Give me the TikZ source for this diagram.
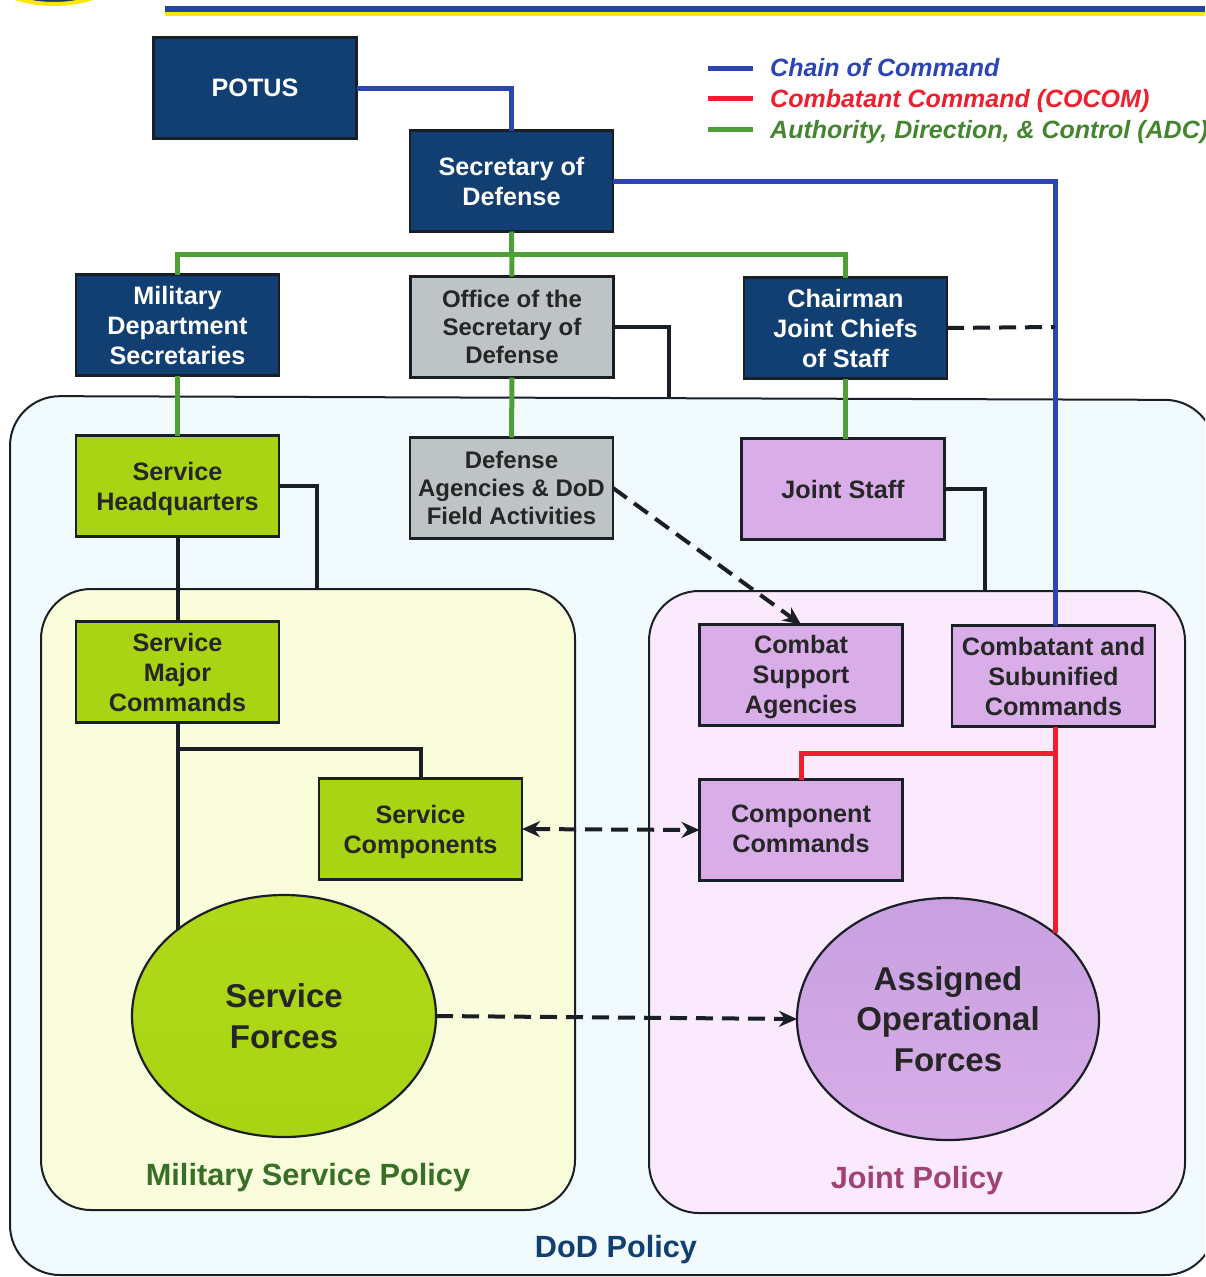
\documentclass[tikz,border=0pt]{standalone}
\usepackage{fontspec}
\setmainfont{Liberation Sans}
\usetikzlibrary{shapes.geometric,arrows.meta}
\definecolor{navy}{HTML}{123F72}
\definecolor{lime}{HTML}{A8D414}
\definecolor{limelt}{HTML}{B0D818}
\definecolor{orchid}{HTML}{D8ADE8}
\definecolor{orchidb}{HTML}{C8A0E0}
\definecolor{greybox}{HTML}{BEC3C5}
\definecolor{cmdblue}{HTML}{2B46B4}
\definecolor{adcgreen}{HTML}{509E38}
\definecolor{cocomred}{HTML}{F01E2E}
\definecolor{edge}{HTML}{1A1F26}
\definecolor{milfill}{HTML}{FAFDDC}
\definecolor{jointfill}{HTML}{FBEAFD}
\definecolor{dodfill}{HTML}{F1FBFE}
\newcommand{\lowered}[2]{\raisebox{-#1}[\height][\depth]{\begin{tabular}{@{}c@{}}#2\end{tabular}}}
\tikzset{
  x=1pt,y=-1pt,
  box/.style={rectangle,draw=edge,line width=2.2pt,minimum width=203pt,minimum height=101pt,inner sep=0pt,outer sep=0pt,align=center,font=\fontsize{25.2}{30}\selectfont\bfseries},
  navybox/.style={box,fill=navy,text=white},
  greenbox/.style={box,fill=lime,text=black!85},
  purplebox/.style={box,fill=orchid,text=black!85},
  greybx/.style={box,fill=greybox,text=black!85,font=\fontsize{24}{28}\selectfont\bfseries},
  region/.style={draw=edge,line width=2pt,rounded corners=50pt},
  blob/.style={ellipse,draw=edge,line width=2.2pt,inner sep=0pt,outer sep=0pt,align=center,font=\fontsize{33}{40.5}\selectfont\bfseries,text=black!85},
  cmdline/.style={draw=cmdblue,line width=5pt},
  adcline/.style={draw=adcgreen,line width=5pt},
  redline/.style={draw=cocomred,line width=5pt},
  blkline/.style={draw=edge,line width=4pt},
  dashline/.style={draw=edge,line width=4pt,dash pattern=on 17pt off 9pt},
  tipped/.style={-{Stealth[length=18pt,width=16pt]}},
  bothtip/.style={{Stealth[length=18pt,width=16pt]}-{Stealth[length=18pt,width=16pt]}},
  legend/.style={anchor=west,inner sep=0pt,font=\fontsize{25}{30}\selectfont\bfseries\itshape},
  caption/.style={inner sep=0pt,font=\fontsize{30.7}{36}\selectfont\bfseries},
}
\begin{document}
\begin{tikzpicture}
\useasboundingbox (0,0) rectangle (1205,1277);
\clip (0,0) rectangle (1205,1277);
\fill[white] (0,0) rectangle (1205,1277);
% logo fragment and header rule
\draw[draw=yellow!90!orange,line width=4pt,fill=navy] (54,-124) circle [radius=128pt];
\fill[cmdblue!70!navy] (165,6) rectangle (1205,11.5);
\fill[yellow!90!orange] (165,11.5) rectangle (1205,15.5);
% regions
\draw[region,fill=dodfill] (10,396) -- (1215,400) -- (1215,1275) -- (10,1275) -- cycle;
\draw[region,fill=milfill] (41,589) rectangle (575,1210);
\draw[region,fill=jointfill] (649,591) rectangle (1185,1213);
% nodes
\node[navybox] (potus) at (255,88) {POTUS};
\node[navybox] (secdef) at (511.5,181) {Secretary of\\Defense};
\node[navybox] (milsec) at (177.5,325) {Military\\Department\\Secretaries};
\node[greybx] (osd) at (512,327) {Office of the\\Secretary of\\Defense};
\node[navybox] (cjcs) at (845.5,328) {Chairman\\Joint Chiefs\\of Staff};
\node[greenbox] (hq) at (177.5,486) {\lowered{3pt}{Service\\Headquarters}};
\node[greybx] (agencies) at (511.5,488) {Defense\\Agencies \& DoD\\Field Activities};
\node[purplebox] (joint) at (843,489) {Joint Staff};
\node[greenbox] (major) at (177.5,672) {Service\\Major\\Commands};
\node[purplebox] (support) at (801,675) {\lowered{2pt}{Combat\\Support\\Agencies}};
\node[purplebox] (combatant) at (1053.5,676) {Combatant and\\Subunified\\Commands};
\node[greenbox] (components) at (420.5,829) {\lowered{3pt}{Service\\Components}};
\node[purplebox] (compcmd) at (801,830) {\lowered{1pt}{Component\\Commands}};
\node[blob,top color=limelt,bottom color=lime,minimum width=304pt,minimum height=242pt] (forces) at (284,1016) {Service\\Forces};
\node[blob,top color=orchidb,bottom color=orchid,minimum width=302pt,minimum height=242pt] (assigned) at (948,1019) {Assigned\\Operational\\Forces};
% junctions on region borders and trunk lines
\coordinate (dodtop) at (669,397);
\coordinate (miltop) at (317,589);
\coordinate (jointtop) at (985,591);
\coordinate (adcbar) at (511.5,254);
\coordinate (redbar) at (1055,753);
\coordinate (blkbar) at (177.5,749);
\coordinate (chainmid) at (1055,327);
% chain of command
\draw[cmdline] (potus.east) -| (secdef.north);
\draw[cmdline] (secdef.east) -| (chainmid) -- (chainmid |- combatant.north);
% ADC
\draw[adcline] (secdef.south) -- (osd.north);
\draw[adcline] (milsec.north) |- (adcbar) -| (cjcs.north);
\draw[adcline] (milsec.south) -- (hq.north);
\draw[adcline] (osd.south) -- (agencies.north);
\draw[adcline] (cjcs.south) -- (cjcs.south |- joint.north);
% black
\draw[blkline] (osd.east) -| (dodtop);
\draw[blkline] (hq.east) -| (miltop);
\draw[blkline] (joint.east) -| (jointtop);
\draw[blkline] (hq.south) -- (major.north);
\draw[blkline] (major.south) -- (major.south |- forces.141);
\draw[blkline] (blkbar) -| (components.north);
% COCOM
\draw[redline] (redbar |- combatant.south) -- (redbar |- assigned.39);
\draw[redline] (redbar) -| (compcmd.north);
% dashed
\draw[dashline] (cjcs.east) -- (chainmid);
\draw[dashline,tipped] (agencies.east) -- (support.north);
\draw[dashline,bothtip] (components.east) -- (compcmd.west);
\draw[dashline,tipped] (forces.east) -- (assigned.west);
% legend
\coordinate (lgA) at (708,68);
\coordinate (lgAe) at (753,68);
\coordinate (lgB) at (708,98.5);
\coordinate (lgBe) at (753,98.5);
\coordinate (lgC) at (708,129);
\coordinate (lgCe) at (753,129);
\draw[cmdline] (lgA) -- (lgAe);
\draw[redline] (lgB) -- (lgBe);
\draw[adcline] (lgC) -- (lgCe);
\node[legend,text=cmdblue] (txtA) at (770,68) {Chain of Command};
\node[legend,text=cocomred] (txtB) at (770,101) {Combatant Command (COCOM)};
\node[legend,text=adcgreen!85!black] (txtC) at (770,132) {Authority, Direction, \& Control (ADC)};
% captions
\node[caption,text=adcgreen!70!black] (capM) at (308,1178) {Military Service Policy};
\node[caption,text=magenta!60!black] (capJ) at (917,1181) {Joint Policy};
\node[caption,text=navy] (capD) at (616,1250) {DoD Policy};
\end{tikzpicture}
\end{document}
